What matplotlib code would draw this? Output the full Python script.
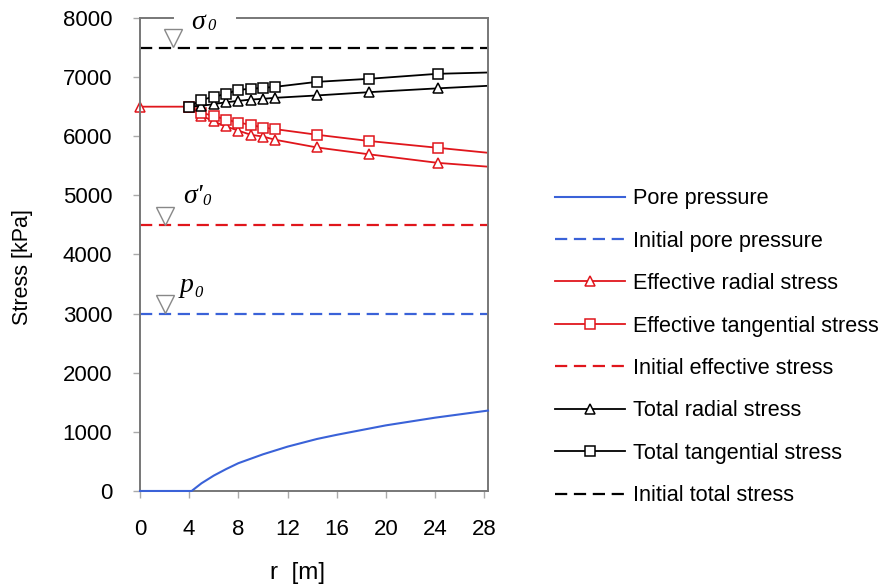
import matplotlib.pyplot as plt

plt.rcParams['font.family'] = ['Liberation Sans', 'DejaVu Sans']

# radial distance [m]
r_pore = [0, 4.2, 5, 6, 7, 8, 10, 12, 14.4, 16, 20, 24, 28.3]
pore = [0, 0, 130, 260, 370, 470, 620, 750, 880, 950, 1110, 1240, 1360]

r_eff_rad = [0, 4, 5, 6, 7, 8, 9, 10, 11, 14.4, 18.6, 24.2, 28.3]
eff_rad = [6500, 6500, 6350, 6250, 6165, 6095, 6025, 5995, 5940, 5810, 5695, 5550, 5485]

r_stress = [4, 5, 6, 7, 8, 9, 10, 11, 14.4, 18.6, 24.2, 28.3]
eff_tan = [6500, 6395, 6345, 6280, 6232, 6193, 6147, 6120, 6025, 5920, 5805, 5720]
tot_rad = [6500, 6515, 6543, 6575, 6598, 6620, 6633, 6650, 6690, 6745, 6810, 6853]
tot_tan = [6500, 6616, 6667, 6717, 6785, 6802, 6819, 6836, 6920, 6971, 7056, 7078]

p0 = 3000
sig_eff0 = 4500
sig0 = 7500

blue = '#3a62d8'
red = '#e0161c'
spine_col = '#777777'

fig = plt.figure(figsize=(8.82, 5.88), dpi=100)
ax = fig.add_axes([0.1587, 0.165, 0.3946, 0.8044])

lw = 1.3
ms = 7
dash = (0, (5.5, 3))
n_rad = len(r_eff_rad) - 1
n_st = len(r_stress) - 1

ax.plot(r_pore, pore, color=blue, lw=1.5, label='Pore pressure', zorder=4, clip_on=False)
ax.axhline(p0, color=blue, lw=1.6, ls=dash, label='Initial pore pressure')
ax.plot(r_eff_rad, eff_rad, color=red, lw=lw, marker='^', ms=ms, mfc='white',
        mec=red, mew=1.1, markevery=list(range(n_rad)), clip_on=False,
        label='Effective radial stress')
ax.plot(r_stress, eff_tan, color=red, lw=lw, marker='s', ms=ms, mfc='white',
        mec=red, mew=1.1, markevery=list(range(n_st)), label='Effective tangential stress')
ax.axhline(sig_eff0, color=red, lw=1.6, ls=dash, label='Initial effective stress')
ax.plot(r_stress, tot_rad, color='black', lw=lw, marker='^', ms=ms, mfc='white',
        mec='black', mew=1.1, markevery=list(range(1, n_st)), label='Total radial stress')
ax.plot(r_stress, tot_tan, color='black', lw=lw, marker='s', ms=ms, mfc='white',
        mec='black', mew=1.1, markevery=list(range(n_st)), label='Total tangential stress')
ax.axhline(sig0, color='black', lw=1.6, ls=dash, label='Initial total stress')

# level markers
for xm, ym in [(2.65, sig0), (2.0, sig_eff0), (2.0, p0)]:
    ax.plot([xm], [ym + 155], marker='v', ms=12.5, mfc='white', mec='#888888',
            mew=1.0, zorder=5)

# level labels (symbol + subscript)
serif = dict(family='Liberation Serif', style='italic')
ax.text(4.15, 7820, '\u03c3', fontsize=20, va='baseline', **serif)
ax.text(5.45, 7800, '0', fontsize=12, va='baseline', **serif)
ax.text(3.5, 4870, "\u03c3'", fontsize=20, va='baseline', **serif)
ax.text(5.1, 4840, '0', fontsize=12, va='baseline', **serif)
ax.text(3.25, 3370, 'p', fontsize=20, va='baseline', **serif)
ax.text(4.4, 3285, '0', fontsize=12, va='baseline', **serif)

ax.set_xlim(0, 28.3)
ax.set_ylim(0, 8000)
ax.set_xticks(range(0, 29, 4))
ax.set_yticks(range(0, 8001, 1000))
ax.tick_params(axis='both', labelsize=16, direction='out', length=5,
               color='#aaaaaa', width=1)
ax.tick_params(axis='x', pad=15)
ax.tick_params(axis='y', pad=15)
for s in ax.spines.values():
    s.set_color(spine_col)
    s.set_linewidth(1.4)

# top frame line broken by the sigma_0 label
ax.spines['top'].set_visible(False)
ax.plot([0, 2.7], [8000, 8000], color=spine_col, lw=1.4, clip_on=False, zorder=6)
ax.plot([7.9, 28.3], [8000, 8000], color=spine_col, lw=1.4, clip_on=False, zorder=6)

ax.set_xlabel('r  [m]', fontsize=17.5)
ax.xaxis.set_label_coords(0.454, -0.15)
ax.set_ylabel('Stress [kPa]', fontsize=15.5)
ax.yaxis.set_label_coords(-0.307, 0.474)

fig.legend(loc='upper left', bbox_to_anchor=(0.629, 0.68), frameon=False,
           fontsize=15.6, handlelength=3.23, handletextpad=0.4, labelspacing=0.99,
           borderpad=0, borderaxespad=0)

fig.savefig('out.png', dpi=100)
